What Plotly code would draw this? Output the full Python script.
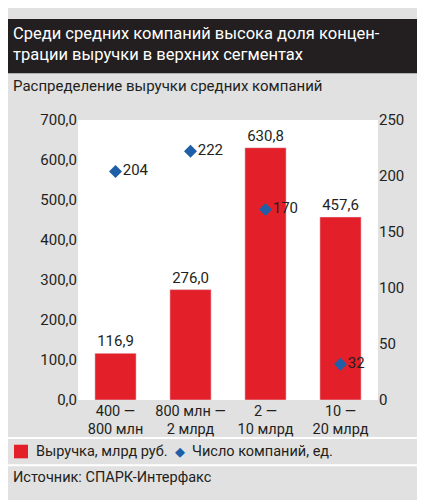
import plotly.graph_objects as go

categories = ["400 —<br>800 млн", "800 млн —<br>2 млрд", "2 —<br>10 млрд", "10 —<br>20 млрд"]
revenue = [116.9, 276.0, 630.8, 457.6]
revenue_labels = ["116,9", "276,0", "630,8", "457,6"]
companies = [204, 222, 170, 32]
left_ticks = [0, 100, 200, 300, 400, 500, 600, 700]
left_tick_text = ["0,0", "100,0", "200,0", "300,0", "400,0", "500,0", "600,0", "700,0"]
right_ticks = [0, 50, 100, 150, 200, 250]

FONT = "Roboto, sans-serif"
BG = "#e1e1e1"
RED = "#e3202a"
BLUE = "#1f5fa8"
TXT = "#231f20"
H = 288.0

def py(pix):
    # convert target pixel y into paper coordinate (plot top at 110, bottom at 398)
    return (398 - pix) / H

fig = go.Figure()
fig.add_trace(go.Bar(x=categories, y=revenue, marker_color=RED, width=0.55,
                     text=revenue_labels, textposition="outside",
                     textfont=dict(size=15, color=TXT), cliponaxis=False,
                     name="Выручка, млрд руб.", showlegend=False))
fig.add_trace(go.Scatter(x=categories, y=companies, yaxis="y2", mode="markers+text",
                         marker=dict(symbol="diamond", size=10, color=BLUE),
                         text=[str(c) for c in companies], textposition="middle right",
                         textfont=dict(size=15, color=TXT), cliponaxis=False,
                         name="Число компаний, ед.", showlegend=False))

fig.update_layout(
    width=425, height=500, margin=dict(l=70, r=55, t=112, b=108),
    paper_bgcolor=BG, plot_bgcolor="white",
    font=dict(family=FONT, color=TXT, size=15),
    bargap=0.4, showlegend=False,
    xaxis=dict(showgrid=False, ticks="", tickfont=dict(size=14.5)),
    yaxis=dict(range=[0, 700], tickvals=left_ticks, ticktext=left_tick_text,
               showgrid=False, zeroline=False, ticks="", tickfont=dict(size=15)),
    yaxis2=dict(range=[0, 250], tickvals=right_ticks, overlaying="y", side="right",
                showgrid=False, zeroline=False, ticks="", tickfont=dict(size=15)),
    shapes=[
        dict(type="rect", xref="paper", yref="paper", x0=-70/300, x1=1+55/300,
             y0=py(62), y1=py(6), fillcolor=TXT, line_width=0, layer="below"),
        dict(type="line", xref="paper", yref="paper", x0=-70/300, x1=1+55/300,
             y0=py(437), y1=py(437), line=dict(color="white", width=2)),
        dict(type="line", xref="paper", yref="paper", x0=-70/300, x1=1+55/300,
             y0=py(465), y1=py(465), line=dict(color="white", width=2)),
        dict(type="rect", xref="paper", yref="paper", x0=-64/300, x1=-50/300,
             y0=py(458), y1=py(444), fillcolor=RED, line_width=0),
    ],
    annotations=[
        dict(text="Среди средних компаний высока доля концен-<br>трации выручки в верхних сегментах",
             xref="paper", yref="paper", x=-67/300, y=py(9), xanchor="left", yanchor="top",
             showarrow=False, align="left", font=dict(size=16.5, color="white", family=FONT)),
        dict(text="Распределение выручки средних компаний", xref="paper", yref="paper",
             x=-67/300, y=py(64), xanchor="left", yanchor="top", showarrow=False,
             font=dict(size=15, color=TXT)),
        dict(text="Выручка, млрд руб.", xref="paper", yref="paper", x=-44/300, y=py(451),
             xanchor="left", yanchor="middle", showarrow=False, font=dict(size=14.5)),
        dict(text="◆", xref="paper", yref="paper", x=(165-70)/300, y=py(451),
             xanchor="left", yanchor="middle", showarrow=False, font=dict(size=13, color=BLUE)),
        dict(text="Число компаний, ед.", xref="paper", yref="paper", x=(182-70)/300, y=py(451),
             xanchor="left", yanchor="middle", showarrow=False, font=dict(size=14.5)),
        dict(text="Источник: СПАРК-Интерфакс", xref="paper", yref="paper", x=-67/300, y=py(478),
             xanchor="left", yanchor="middle", showarrow=False, font=dict(size=14.5)),
    ],
)
fig.write_html("out.html")
